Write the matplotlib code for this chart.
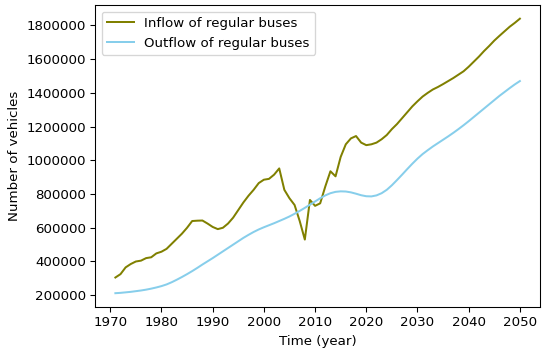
import numpy as np
import matplotlib
matplotlib.use("Agg")
import matplotlib.pyplot as plt

years = np.arange(1971, 2051)

inflow = [
    305000, 325000, 365000, 385000, 400000, 405000, 420000, 425000, 448000, 458000,
    475000, 505000, 535000, 565000, 600000, 640000, 642000, 643000, 625000, 605000,
    592000, 600000, 625000, 660000, 705000, 750000, 790000, 825000, 865000, 885000,
    890000, 915000, 952000, 825000, 775000, 735000, 640000, 530000, 765000, 730000,
    745000, 845000, 935000, 905000, 1020000, 1095000, 1130000, 1144000, 1105000, 1090000,
    1095000, 1105000, 1125000, 1150000, 1185000, 1215000, 1250000, 1285000, 1320000, 1350000,
    1378000, 1400000, 1420000, 1435000, 1452000, 1470000, 1488000, 1508000, 1528000, 1555000,
    1585000, 1615000, 1648000, 1678000, 1710000, 1738000, 1765000, 1792000, 1815000, 1840000,
]

outflow = [
    212000, 214000, 217000, 220000, 224000, 228000, 233000, 239000, 246000, 254000,
    264000, 277000, 292000, 308000, 325000, 343000, 362000, 382000, 401000, 420000,
    440000, 460000, 480000, 500000, 520000, 540000, 558000, 575000, 590000, 603000,
    615000, 627000, 640000, 653000, 667000, 683000, 700000, 718000, 737000, 756000,
    775000, 792000, 805000, 813000, 816000, 815000, 810000, 802000, 793000, 787000,
    786000, 792000, 805000, 825000, 852000, 883000, 915000, 948000, 980000, 1010000,
    1037000, 1060000, 1082000, 1102000, 1122000, 1142000, 1163000, 1185000, 1208000, 1232000,
    1257000, 1282000, 1307000, 1332000, 1357000, 1382000, 1405000, 1428000, 1450000, 1470000,
]

# reference looks like a 96 dpi render, so size the figure in those units
dpi = 96
fig, ax = plt.subplots(figsize=(550 / dpi, 354 / dpi), dpi=dpi)
fig.subplots_adjust(left=0.173, right=0.982, top=0.986, bottom=0.133)

ax.plot(years, inflow, color='olive', linewidth=1.5, label='Inflow of regular buses')
ax.plot(years, outflow, color='skyblue', linewidth=1.5, label='Outflow of regular buses')

ax.set_xlabel('Time (year)')
ax.set_ylabel('Number of vehicles')
ax.ticklabel_format(style='plain', axis='y', useOffset=False)
ax.legend(loc='upper left')

fig.savefig('out.png', dpi=dpi)
